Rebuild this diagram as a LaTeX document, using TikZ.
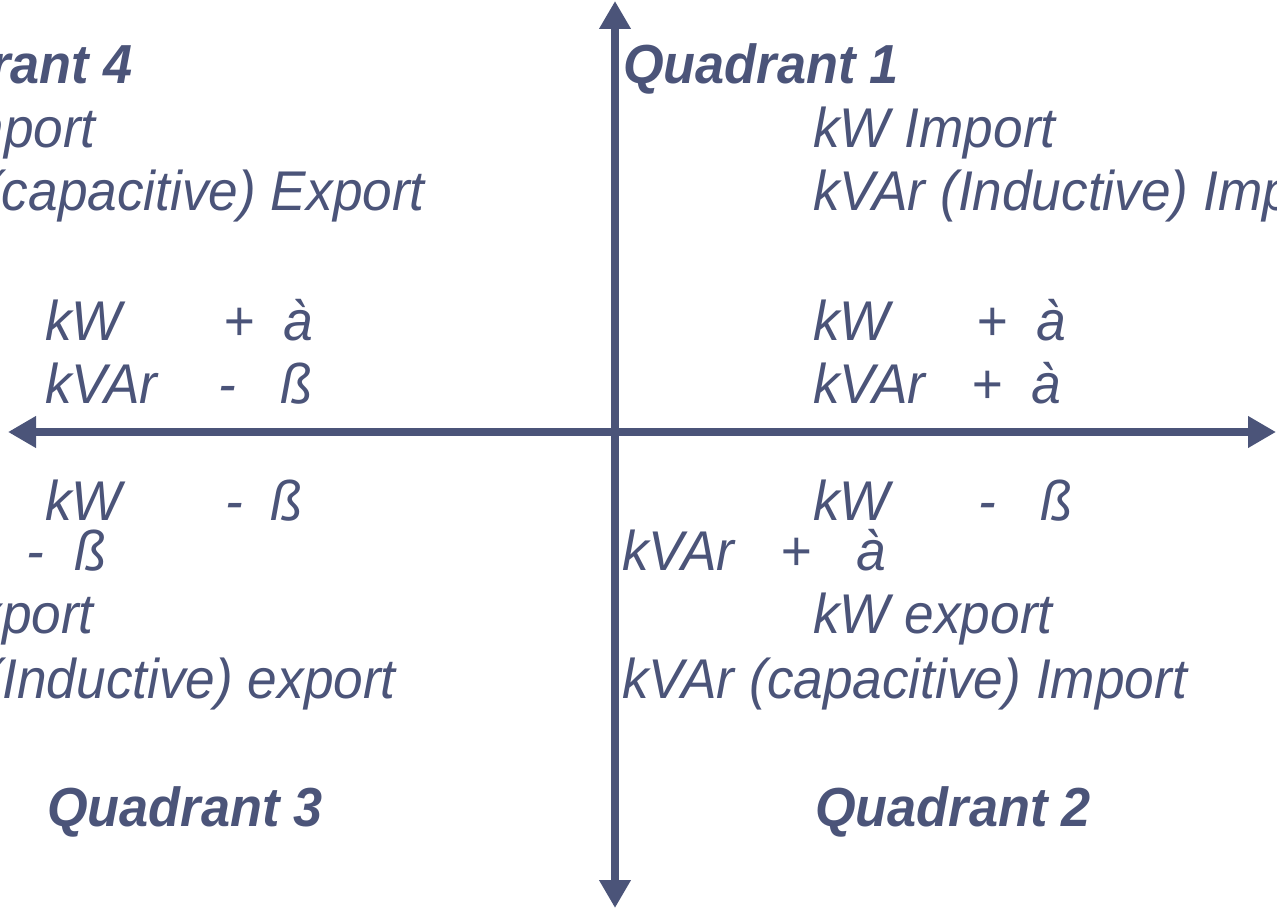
\documentclass[tikz,border=0pt]{standalone}
\usepackage{fontspec}
\usetikzlibrary{arrows.meta}
\newfontfamily\quadfont{Liberation Sans}[FakeStretch=0.95]
\definecolor{quadblue}{HTML}{4B5479}

\tikzset{
  axis/.style={line width=8pt, draw=quadblue,
    arrows={Triangle[length=28pt,width=30pt]-Triangle[length=28pt,width=30pt]}},
  qtext/.style={inner sep=0pt, anchor=base west, text=quadblue,
    font=\quadfont\itshape\fontsize{56}{60}\selectfont},
  qhead/.style={qtext, font=\quadfont\bfseries\itshape\fontsize{55}{60}\selectfont}
}

\begin{document}
\begin{tikzpicture}[x=1pt, y=-1pt]
				\useasboundingbox (0, 0) rectangle (1277, 909);
				\clip (0, 0) rectangle (1277, 909);

				\coordinate (west) at (8, 432);
				\coordinate (east) at (1276, 432);
				\coordinate (north) at (615, 1);
				\coordinate (south) at (615, 908);
				\draw [axis] (west) -- (east);
				\draw [axis] (south) -- (north);

				\node [qhead] (q1) at (623, 84) {Quadrant 1};
				\node [qtext] (q1kw) at (813, 148) {kW Import};
				\node [qtext] (q1kvar) at (813, 211) {kVAr (Inductive) Import};
				\node [qtext] (q1a) at (813, 341) {kW};
				\node [qtext] (q1b) at (976, 341) {+};
				\node [qtext] (q1c) at (1036, 341) {à};
				\node [qtext] (q1d) at (813, 403) {kVAr};
				\node [qtext] (q1e) at (971, 403) {+};
				\node [qtext] (q1f) at (1031, 403) {à};

				\node [qhead, anchor=base east] (q4) at (133, 84) {Quadrant 4};
				\node [qtext, anchor=base east] (q4kw) at (96, 148) {kW Import};
				\node [qtext, anchor=base east] (q4kvar) at (425, 211) {kVAr (capacitive) Export};
				\node [qtext] (q4a) at (45, 341) {kW};
				\node [qtext] (q4b) at (223, 341) {+};
				\node [qtext] (q4c) at (283, 341) {à};
				\node [qtext] (q4d) at (45, 403) {kVAr};
				\node [qtext] (q4e) at (218, 403) {-};
				\node [qtext] (q4f) at (280, 403) {ß};

				\node [qtext] (q3a) at (45, 520) {kW};
				\node [qtext] (q3b) at (225, 520) {-};
				\node [qtext] (q3c) at (270, 520) {ß};
				\node [qtext] (q3e) at (26, 570) {-};
				\node [qtext] (q3f) at (74, 570) {ß};
				\node [qtext, anchor=base east] (q3kw) at (94, 633) {kW export};
				\node [qtext, anchor=base east] (q3kvar) at (396, 698) {kVAr (Inductive) export};
				\node [qhead] (q3) at (47, 826) {Quadrant 3};

				\node [qtext] (q2a) at (813, 520) {kW};
				\node [qtext] (q2b) at (978, 520) {-};
				\node [qtext] (q2c) at (1040, 520) {ß};
				\node [qtext] (q2d) at (622, 570) {kVAr};
				\node [qtext] (q2e) at (780, 570) {+};
				\node [qtext] (q2f) at (856, 570) {à};
				\node [qtext] (q2kw) at (813, 633) {kW export};
				\node [qtext] (q2kvar) at (622, 698) {kVAr (capacitive) Import};
				\node [qhead] (q2) at (815, 826) {Quadrant 2};
			\end{tikzpicture}
\end{document}
